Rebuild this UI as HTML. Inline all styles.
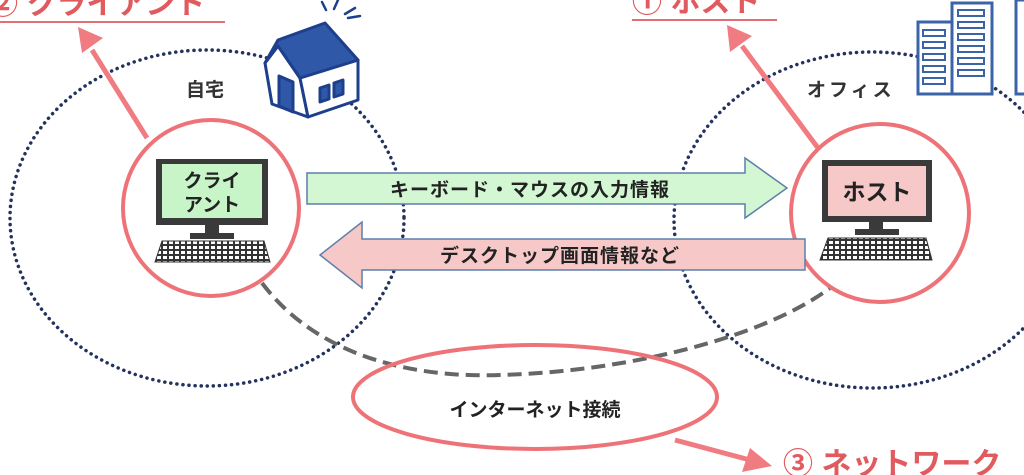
<!DOCTYPE html>
<html><head><meta charset="utf-8"><style>
html,body{margin:0;padding:0;background:#fff;}
svg{display:block;font-family:"Liberation Sans","Noto Sans CJK JP",sans-serif;}
</style></head><body>
<svg width="1024" height="475" viewBox="0 0 1024 475" xmlns="http://www.w3.org/2000/svg">
<defs>
<pattern id="kb" width="6" height="5" patternUnits="userSpaceOnUse"><rect width="6" height="5" fill="#333"/><rect x="1" y="1" width="4" height="3" fill="#fff"/></pattern>
</defs>
<ellipse cx="207" cy="218" rx="197" ry="168" fill="none" stroke="#24335e" stroke-width="3.5" stroke-dasharray="0.1 6" stroke-linecap="round"/>
<ellipse cx="872" cy="220" rx="198" ry="168" fill="none" stroke="#24335e" stroke-width="3.5" stroke-dasharray="0.1 6" stroke-linecap="round"/>
<path d="M262,283 C320,360 420,378 500,375 C620,372 760,340 830,288" fill="none" stroke="#666" stroke-width="4" stroke-dasharray="14 7"/>
<text x="-12" y="14" font-size="30" font-weight="bold" fill="#e05a5e">② クライアント</text>
<line x1="0" y1="22" x2="225" y2="22" stroke="#e07075" stroke-width="2"/>
<text x="632" y="12" font-size="30" font-weight="bold" fill="#e05a5e">① ホスト</text>
<line x1="632" y1="20" x2="777" y2="20" stroke="#e07075" stroke-width="2"/>
<line x1="147" y1="138" x2="92" y2="50" stroke="#f07b80" stroke-width="5"/>
<polygon points="78,27 103,38 82,53" fill="#f07b80"/>
<line x1="818" y1="148" x2="742" y2="46" stroke="#f07b80" stroke-width="5"/>
<polygon points="727,25 752,36 730,52" fill="#f07b80"/>
<!-- house -->
<g stroke="#1e3f8c" stroke-width="3" stroke-linejoin="round">
<polygon points="265,63 278,46 300,78 308,117 272,104" fill="#fff"/>
<polygon points="300,78 358,60 358,100 308,117" fill="#fff"/>
<polygon points="265,63 278,40 325,23 358,60 300,78 278,46" fill="#2f58a8"/>
<polygon points="279,76 293,82 293,112 279,106" fill="#2f58a8"/>
<polygon points="320,88 329,85 329,99 320,102" fill="#2f58a8"/>
<polygon points="334,83 343,80 343,94 334,97" fill="#2f58a8"/>
</g>
<g stroke="#1e3f8c" stroke-width="2.5" stroke-linecap="round">
<line x1="322" y1="2" x2="326" y2="10"/><line x1="338" y1="0" x2="334" y2="9"/><line x1="355" y1="8" x2="345" y2="14"/><line x1="360" y1="16" x2="348" y2="18"/>
</g>
<!-- building -->
<g stroke="#3b63a8" stroke-width="3" fill="#fff">
<rect x="918" y="22" width="34" height="72"/>
<rect x="952" y="3" width="40" height="91"/>
<rect x="1016" y="0" width="14" height="94"/>
</g>
<g stroke="#3b63a8" stroke-width="2" fill="none">
<rect x="923" y="30" width="22" height="6"/><rect x="923" y="42" width="22" height="6"/><rect x="923" y="54" width="22" height="6"/><rect x="923" y="66" width="22" height="6"/><rect x="923" y="78" width="22" height="6"/>
<rect x="958" y="10" width="26" height="6"/><rect x="958" y="22" width="26" height="6"/><rect x="958" y="34" width="26" height="6"/><rect x="958" y="46" width="26" height="6"/><rect x="958" y="58" width="26" height="6"/><rect x="958" y="70" width="26" height="6"/>
</g>
<text x="186" y="96" font-size="19" font-weight="bold" fill="#333">自宅</text>
<text x="807" y="96" font-size="19" font-weight="bold" fill="#333" letter-spacing="3">オフィス</text>
<circle cx="211" cy="208" r="88" fill="#fff" stroke="#ee7378" stroke-width="4"/>
<rect x="156" y="159" width="112" height="66" fill="#3a3a3a"/>
<rect x="162" y="164" width="100" height="54" fill="#c8f5c8"/>
<text x="212" y="187" font-size="19" font-weight="bold" fill="#222" text-anchor="middle">クライ</text>
<text x="212" y="211" font-size="19" font-weight="bold" fill="#222" text-anchor="middle">アント</text>
<rect x="205" y="225" width="14" height="10" fill="#3a3a3a"/>
<rect x="190" y="233" width="44" height="6" fill="#3a3a3a"/>
<polygon points="162,241 264,241 270,262 155,262" fill="url(#kb)" stroke="#333" stroke-width="1"/>
<circle cx="880" cy="213" r="89" fill="#fff" stroke="#ee7378" stroke-width="4"/>
<rect x="822" y="160" width="110" height="62" fill="#3a3a3a"/>
<rect x="828" y="166" width="98" height="50" fill="#f7c8c8"/>
<text x="877" y="200" font-size="23" font-weight="bold" fill="#222" text-anchor="middle">ホスト</text>
<rect x="869" y="222" width="14" height="9" fill="#3a3a3a"/>
<rect x="855" y="229" width="44" height="6" fill="#3a3a3a"/>
<polygon points="828,238 926,238 932,260 820,260" fill="url(#kb)" stroke="#333" stroke-width="1"/>
<polygon points="307,173 745,173 745,158 787,188 745,218 745,204 307,204" fill="#d2f7d2" stroke="#5d7faa" stroke-width="1.5"/>
<text x="530" y="196" font-size="19" font-weight="bold" fill="#222" text-anchor="middle" letter-spacing="1">キーボード・マウスの入力情報</text>
<polygon points="805,239 362,239 362,222 320,255 362,288 362,270 805,270" fill="#f7c8c8" stroke="#5d7faa" stroke-width="1.5"/>
<text x="560" y="262" font-size="19" font-weight="bold" fill="#222" text-anchor="middle" letter-spacing="1">デスクトップ画面情報など</text>
<ellipse cx="535" cy="397" rx="182" ry="52" fill="none" stroke="#ee7378" stroke-width="4"/>
<text x="535" y="416" font-size="19" font-weight="bold" fill="#222" text-anchor="middle">インターネット接続</text>
<line x1="675" y1="440" x2="750" y2="460" stroke="#f07b80" stroke-width="5"/>
<polygon points="772,466 742,472 750,448" fill="#f07b80"/>
<text x="783" y="474" font-size="30" font-weight="bold" fill="#e05a5e">③ ネットワーク</text>
</svg>
</body></html>
